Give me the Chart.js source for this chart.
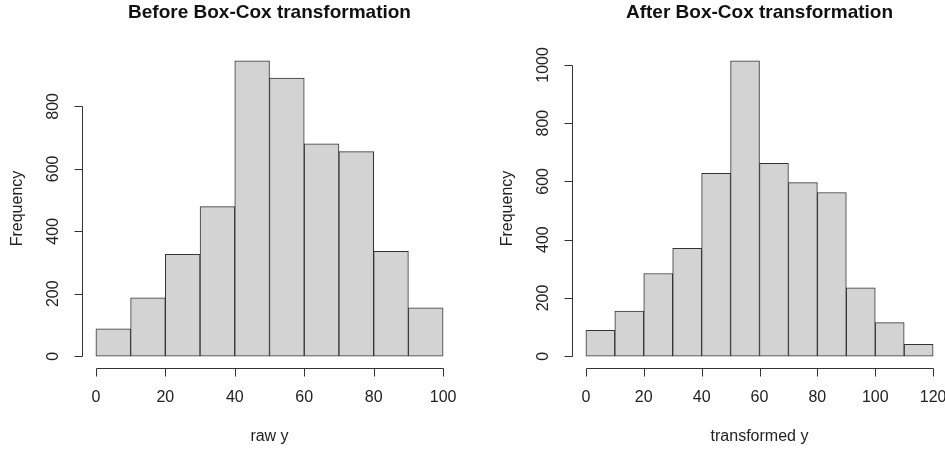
<!DOCTYPE html>
<html lang="en">
<head>
    <meta charset="UTF-8">
    <title>Box-Cox histograms</title>

    <!--  Chart.js  -->
    <script src="https://cdn.jsdelivr.net/npm/chart.js@4.4.0/dist/chart.umd.min.js"></script>

    <style>
        html, body { margin: 0; padding: 0; background: #fff; overflow: hidden; }
        #wrap { position: relative; width: 945px; height: 453px; overflow: hidden; }
        canvas { position: absolute; top: 0; }
        #beforeHist { left: 0; }
        #afterHist { left: 472px; }
    </style>
</head>
<body>
    <div id="wrap">
        <canvas id="beforeHist" width="472" height="453"></canvas>
        <canvas id="afterHist" width="476" height="453"></canvas>
    </div>

    <script>
        // ***********
        // Data (bin breaks + counts)
        // ***********
        var breaksBefore = [0, 10, 20, 30, 40, 50, 60, 70, 80, 90, 100];
        var countsBefore = [88, 187, 326, 479, 946, 891, 680, 655, 336, 155];
        var xTicksBefore = [0, 20, 40, 60, 80, 100];
        var yTicksBefore = [0, 200, 400, 600, 800];

        var breaksAfter = [0, 10, 20, 30, 40, 50, 60, 70, 80, 90, 100, 110, 120];
        var countsAfter = [89, 155, 284, 370, 628, 1014, 662, 596, 562, 235, 115, 41];
        var xTicksAfter = [0, 20, 40, 60, 80, 100, 120];
        var yTicksAfter = [0, 200, 400, 600, 800, 1000];

        var FONT = '"Liberation Sans", Arial, Helvetica, sans-serif';


        // Draw R-style axes, labels and main title around the plot region
        var rAxesPlugin = {
            id: 'rAxes',
            afterDraw: function(chart, args, opts) {
                var ctx = chart.ctx;
                var area = chart.chartArea;
                var xs = chart.scales.x;
                var ys = chart.scales.y;
                var tick = 8;

                ctx.save();
                ctx.strokeStyle = '#333';
                ctx.fillStyle = '#222';
                ctx.lineWidth = 1;

                // x axis line + ticks
                var yLine = Math.round(area.bottom) + 0.5;
                ctx.beginPath();
                ctx.moveTo(Math.round(xs.getPixelForValue(opts.xTicks[0])) + 0.5, yLine);
                ctx.lineTo(Math.round(xs.getPixelForValue(opts.xTicks[opts.xTicks.length - 1])) + 0.5, yLine);
                opts.xTicks.forEach(function(v) {
                    var px = Math.round(xs.getPixelForValue(v)) + 0.5;
                    ctx.moveTo(px, yLine);
                    ctx.lineTo(px, yLine + tick);
                });
                // y axis line + ticks
                var xLine = Math.round(area.left) + 0.5;
                ctx.moveTo(xLine, Math.round(ys.getPixelForValue(opts.yTicks[0])) + 0.5);
                ctx.lineTo(xLine, Math.round(ys.getPixelForValue(opts.yTicks[opts.yTicks.length - 1])) + 0.5);
                opts.yTicks.forEach(function(v) {
                    var py = Math.round(ys.getPixelForValue(v)) + 0.5;
                    ctx.moveTo(xLine, py);
                    ctx.lineTo(xLine - tick, py);
                });
                ctx.stroke();

                // tick labels
                ctx.font = '16px ' + FONT;
                ctx.textAlign = 'center';
                ctx.textBaseline = 'middle';
                opts.xTicks.forEach(function(v) {
                    ctx.fillText(String(v), xs.getPixelForValue(v), area.bottom + 30);
                });
                opts.yTicks.forEach(function(v) {
                    ctx.save();
                    ctx.translate(area.left - 28, ys.getPixelForValue(v));
                    ctx.rotate(-Math.PI / 2);
                    ctx.fillText(String(v), 0, 0);
                    ctx.restore();
                });

                // axis titles
                var midX = (area.left + area.right) / 2;
                var midY = (area.top + area.bottom) / 2;
                ctx.fillText(opts.xTitle, midX, area.bottom + 69);
                ctx.save();
                ctx.translate(area.left - 64, midY);
                ctx.rotate(-Math.PI / 2);
                ctx.fillText('Frequency', 0, 0);
                ctx.restore();

                // main title
                ctx.font = 'bold 19px ' + FONT;
                ctx.fillStyle = '#111';
                ctx.fillText(opts.title, midX, 13);

                ctx.restore();
            }
        };


        // Build one histogram; plot region uses R defaults (4% expansion)
        function buildHist(canvasID, breaks, counts, xTicks, yTicks, title, xTitle, padding) {
            var points = counts.map(function(c, i) {
                return {x: (breaks[i] + breaks[i + 1]) / 2, y: c};
            });
            var xMin = breaks[0], xMax = breaks[breaks.length - 1];
            var yMax = Math.max.apply(null, counts);
            var xPad = (xMax - xMin) * 0.04, yPad = yMax * 0.04;

            return new Chart(document.getElementById(canvasID), {
                type: 'bar',
                data: {
                    datasets: [{
                        data: points,
                        backgroundColor: '#d3d3d3',
                        borderColor: '#333',
                        borderWidth: 1,
                        borderSkipped: false,
                        barPercentage: 1,
                        categoryPercentage: 1
                    }]
                },
                options: {
                    responsive: false,
                    animation: false,
                    layout: { padding: padding },
                    scales: {
                        x: { type: 'linear', offset: false, min: xMin - xPad, max: xMax + xPad, display: false },
                        y: { type: 'linear', min: -yPad, max: yMax + yPad, display: false }
                    },
                    plugins: {
                        legend: { display: false },
                        tooltip: { enabled: false },
                        rAxes: { xTicks: xTicks, yTicks: yTicks, title: title, xTitle: xTitle }
                    }
                },
                plugins: [rAxesPlugin]
            });
        } // END: buildHist


        buildHist('beforeHist', breaksBefore, countsBefore, xTicksBefore, yTicksBefore,
            'Before Box-Cox transformation', 'raw y', {left: 82, right: 15, top: 49, bottom: 85});
        buildHist('afterHist', breaksAfter, countsAfter, xTicksAfter, yTicksAfter,
            'After Box-Cox transformation', 'transformed y', {left: 100, right: 1, top: 49, bottom: 85});
    </script>
</body>
</html>
